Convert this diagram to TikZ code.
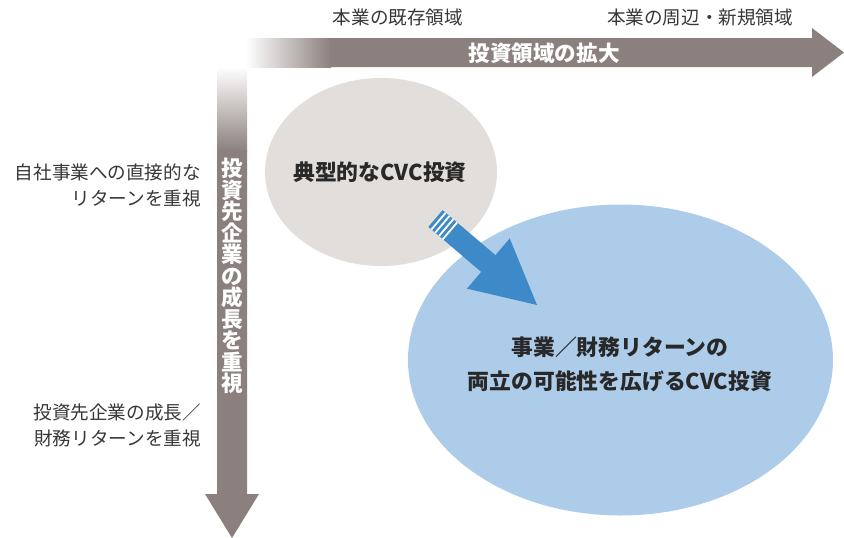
\documentclass[tikz,border=0pt]{standalone}
\usepackage{fontspec}
\setmainfont{Noto Sans CJK JP}
\usetikzlibrary{calc}
\definecolor{axisgray}{RGB}{139,128,125}
\definecolor{ellgray}{RGB}{226,222,220}
\definecolor{ellblue}{RGB}{172,204,234}
\definecolor{arrblue}{RGB}{62,138,200}
\definecolor{txtdark}{RGB}{55,55,55}
\definecolor{txtbold}{RGB}{40,40,40}
\tikzset{
  lbl/.style={font=\fontsize{18.6}{26}\selectfont, text=txtdark, inner sep=0pt},
  bold/.style={font=\fontsize{21.8}{34}\selectfont\bfseries, text=txtbold, inner sep=0pt, align=center},
  axislbl/.style={font=\fontsize{21.6}{21.5}\selectfont\bfseries, text=white, inner sep=0pt, align=center},
}
\begin{document}
\begin{tikzpicture}[x=1pt,y=-1pt]
\useasboundingbox (0,0) rectangle (844,538);
% horizontal axis arrow
\shade[left color=white, right color=axisgray] (246,38) rectangle (331,67);
\fill[axisgray] (330,38) -- (812,38) -- (812,28) -- (844,52.5) -- (812,77) -- (812,67) -- (330,67) -- cycle;
% vertical axis arrow
\shade[top color=white, bottom color=axisgray] (217,67) rectangle (247,151);
\fill[axisgray] (217,150) -- (217,494) -- (205,494) -- (232,538) -- (259,494) -- (247,494) -- (247,150) -- cycle;
% ellipses
\fill[ellgray] (381,172) ellipse [x radius=116, y radius=94];
\fill[ellblue] (620.5,360) ellipse [x radius=212.5, y radius=155.5];
% blue arrow
\coordinate (tl) at (435.5,218.5);
\coordinate (tp) at (537,305);
\coordinate (hb) at ($(tl)!69.4pt!(tp)$);
\fill[arrblue] ($(tl)!11pt!90:(tp)$) -- ($(hb)!11pt!90:(tp)$) -- ($(hb)!33pt!90:(tp)$) -- (tp)
  -- ($(hb)!33pt!-90:(tp)$) -- ($(hb)!11pt!-90:(tp)$) -- ($(tl)!11pt!-90:(tp)$) -- cycle;
\foreach \s in {4,9,14,19}{
  \coordinate (sp) at ($(tl)!\s pt!(tp)$);
  \draw[white, line width=1.8pt] ($(sp)!11pt!90:(tp)$) -- ($(sp)!11pt!-90:(tp)$);
}
% texts
\node[lbl] (t1) at (398,17) {本業の既存領域};
\node[lbl] (t2) at (700,17) {本業の周辺・新規領域};
\node[axislbl] (h) at (544,53) {投資領域の拡大};
\node[axislbl] (v) at (232,276) {投\\資\\先\\企\\業\\の\\成\\長\\を\\重\\視};
\node[lbl, align=right, anchor=east] (l1) at (201,185) {自社事業への直接的な\\リターンを重視};
\node[lbl, align=right, anchor=east] (l2) at (201,425) {投資先企業の成長／\\財務リターンを重視};
\node[bold] (e1) at (380,172) {典型的なCVC投資};
\node[bold] (e2) at (620,364) {事業／財務リターンの\\両立の可能性を広げるCVC投資};
\end{tikzpicture}
\end{document}
